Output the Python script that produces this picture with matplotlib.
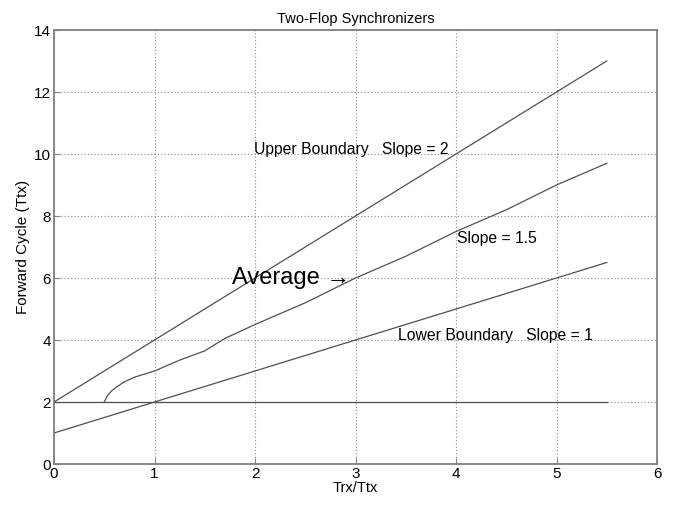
import matplotlib
matplotlib.use('Agg')
import matplotlib.pyplot as plt

plt.rcParams['font.family'] = ['Liberation Sans', 'DejaVu Sans']

# lines
upper_x = [0, 5.5]
upper_y = [2, 13]
lower_x = [0, 5.5]
lower_y = [1, 6.5]
floor_x = [0, 5.5]
floor_y = [2, 2]
avg_x = [0.5, 0.53, 0.57, 0.62, 0.7, 0.8, 0.9, 1.0, 1.25, 1.5, 1.6, 1.7, 2.0, 2.5, 3.0, 3.5, 4.0, 4.5, 5.0, 5.5]
avg_y = [2.0, 2.2, 2.35, 2.48, 2.65, 2.8, 2.9, 3.0, 3.35, 3.65, 3.85, 4.05, 4.5, 5.2, 6.0, 6.7, 7.5, 8.2, 9.0, 9.7]

line_col = '#505050'

fig = plt.figure(figsize=(6.78, 5.05), dpi=100)
ax = fig.add_axes([54/678, 1 - 464/505, (657-54)/678, (464-30)/505])

ax.plot(upper_x, upper_y, color=line_col, lw=0.9)
ax.plot(avg_x, avg_y, color=line_col, lw=0.9)
ax.plot(lower_x, lower_y, color=line_col, lw=0.9)
ax.plot(floor_x, floor_y, color=line_col, lw=0.9)

ax.set_xlim(0, 6)
ax.set_ylim(0, 14)
ax.set_xticks(range(0, 7))
ax.set_yticks(range(0, 15, 2))
ax.grid(True, linestyle=(0, (1, 2)), color='#888888', lw=0.8)
ax.tick_params(direction='in', length=4, color='#808080', labelsize=11, pad=2)
for s in ax.spines.values():
    s.set_color('#808080')
    s.set_linewidth(1.3)

ax.set_title('Two-Flop Synchronizers', fontsize=10.5, pad=5)
ax.set_xlabel('Trx/Ttx', fontsize=10.5, labelpad=0)
ax.set_ylabel('Forward Cycle (Ttx)', fontsize=11, labelpad=3)

ax.text(1.99, 10.16, 'Upper Boundary   Slope = 2', fontsize=11.3, va='center')
ax.text(4.01, 7.29, 'Slope = 1.5', fontsize=11.3, va='center')
ax.text(3.42, 4.15, 'Lower Boundary   Slope = 1', fontsize=11.3, va='center')
ax.text(1.77, 6.0, 'Average \u2192', fontsize=17, va='center')

fig.savefig('out.png', dpi=100)
